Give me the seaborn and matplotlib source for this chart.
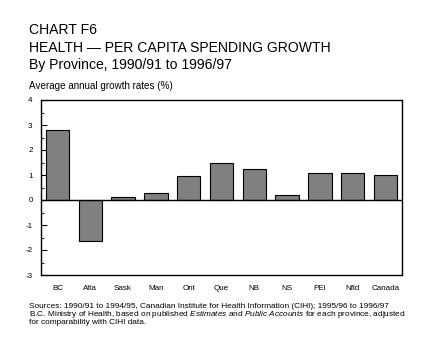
import matplotlib
matplotlib.use("Agg")
import matplotlib.pyplot as plt
import seaborn as sns
import pandas as pd
from matplotlib.ticker import MultipleLocator

provinces = ["BC", "Alta", "Sask", "Man", "Ont", "Que", "NB", "NS", "PEI", "Nfld", "Canada"]
growth = [2.79, -1.65, 0.12, 0.27, 0.96, 1.48, 1.23, 0.19, 1.07, 1.07, 1.01]
yticks = [-3, -2, -1, 0, 1, 2, 3, 4]

sns.set_theme(style="white")
plt.rcParams['font.family'] = ['Liberation Sans', 'DejaVu Sans']
plt.rcParams['mathtext.fontset'] = 'custom'
plt.rcParams['mathtext.rm'] = 'Liberation Sans'
plt.rcParams['mathtext.it'] = 'Liberation Sans:italic'

df = pd.DataFrame({"province": provinces, "growth": growth})

fig = plt.figure(figsize=(4.33, 3.41), dpi=100)
ax = fig.add_axes([41/433, 1-275/341, 361/433, 175/341])

sns.barplot(data=df, x="province", y="growth", color="#808080", saturation=1,
            edgecolor="black", linewidth=0.8, width=0.71, ax=ax)

ax.axhline(0, color="black", linewidth=1.0)
ax.set_xlim(-0.5, len(provinces) - 0.5)
ax.set_ylim(-3, 4)
ax.set_yticks(yticks)
ax.set_yticklabels([str(t) for t in yticks])
ax.yaxis.set_minor_locator(MultipleLocator(0.5))
ax.set_xlabel("")
ax.set_ylabel("")
for s in ax.spines.values():
    s.set_color("black")
    s.set_linewidth(1.0)
ax.tick_params(axis="y", which="major", direction="in", length=4, width=0.8,
               left=True, labelsize=5.8, pad=6, colors="black")
ax.tick_params(axis="y", which="minor", direction="in", length=2.3, width=0.8, left=True)
ax.tick_params(axis="x", length=0, labelsize=5.8, pad=7, colors="black")

fig.text(29/433, 1-33.5/341, "CHART F6", fontsize=10.1, color="black", va="baseline")
fig.text(29/433, 1-51.5/341, "HEALTH \u2014 PER CAPITA SPENDING GROWTH", fontsize=10.1,
         color="black", va="baseline")
fig.text(29/433, 1-69/341, "By Province, 1990/91 to 1996/97", fontsize=10.1,
         color="black", va="baseline")
fig.text(29/433, 1-89/341, "Average annual growth rates (%)", fontsize=7.1,
         color="black", va="baseline")

src_lines = [
    "Sources: 1990/91 to 1994/95, Canadian Institute for Health Information (CIHI); 1995/96 to 1996/97",
    r"B.C. Ministry of Health, based on published $\it{Estimates}$ and $\it{Public\ Accounts}$ for each province, adjusted",
    "for comparability with CIHI data.",
]
for i, line in enumerate(src_lines):
    fig.text(29/433, 1-(307.5 + i*8.3)/341, line, fontsize=5.95, color="black", va="baseline")

fig.savefig("out.png", dpi=100)
